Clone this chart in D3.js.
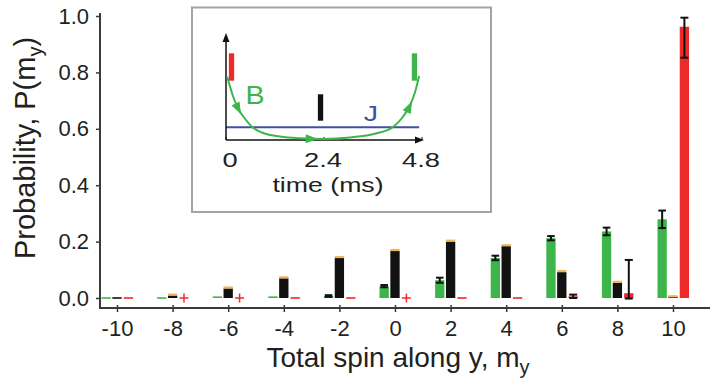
<!DOCTYPE html>
<html>
<head>
<meta charset="utf-8">
<script src="https://cdn.jsdelivr.net/npm/d3@7"></script>
<style>
  body { margin: 0; background: #fff; }
  text { font-family: "Liberation Sans", Arial, Helvetica, sans-serif; fill: #231f20; }
</style>
</head>
<body>
<div id="chart"></div>
<script>
// categories: total spin along y
var spins = [-10, -8, -6, -4, -2, 0, 2, 4, 6, 8, 10];
var yTicks = [0, 0.2, 0.4, 0.6, 0.8, 1.0];

// green bars (left of each group)
var greenVals = [0, 0, 0.001, 0.004, 0.007, 0.042, 0.063, 0.142, 0.212, 0.236, 0.279];
var greenErr = [0, 0, 0, 0, 0.003, 0.004, 0.009, 0.008, 0.0075, 0.0135, 0.031];
// black bars (middle)
var blackVals = [0, 0.009, 0.034, 0.070, 0.142, 0.167, 0.200, 0.184, 0.092, 0.054, 0.003];
// red bars (right)
var redVals = [0, 0, 0, 0, 0, 0, 0, 0, 0.006, 0.017, 0.962];
var redErrLo = [null, null, null, null, null, null, null, null, 0, -0.002, 0.852];
var redErrHi = [null, null, null, null, null, null, null, null, 0.012, 0.135, 0.994];
var redPlus = [false, true, true, false, false, true, false, false, false, false, false];

// inset: field B(t) and coupling J over the 4.8 ms sequence
var insetTicks = [0, 2.4, 4.8];
var fieldT = [0.03, 0.17, 0.29, 0.47, 0.64, 0.88, 1.32, 1.81, 2.4, 3.04, 3.67, 4.09, 4.33, 4.51, 4.63, 4.73];
var fieldB = [0.633, 0.44, 0.32, 0.21, 0.13, 0.075, 0.035, 0.017, 0.01, 0.025, 0.065, 0.13, 0.23, 0.35, 0.48, 0.64];
var arrowT = [0.30, 2.1, 4.49];
var couplingJ = 0.127;
var pulseStart = [0.07, 2.25, 4.55];
var pulseEnd = [0.20, 2.38, 4.68];
var pulseLo = [0.593, 0.193, 0.593];
var pulseHi = [0.867, 0.457, 0.867];

var GREEN = "#3db54a", BLACK = "#111111", RED = "#ee2a2a", ORANGE = "#f3b45e", BLUE = "#3f51a3";
var pulseColors = [RED, BLACK, GREEN];

var width = 710, height = 385;
var svg = d3.select("#chart").append("svg")
  .attr("width", width)
  .attr("height", height);

var x = d3.scaleLinear().domain([-10, 10]).range([117, 673]);
var y = d3.scaleLinear().domain([0, 1]).range([298, 16]);
var unit = x(1) - x(0);
var barW = 0.335 * unit;

// bars
var series = [
  { vals: greenVals, off: -0.39, color: GREEN, plus: null },
  { vals: blackVals, off: 0, color: BLACK, plus: null },
  { vals: redVals, off: 0.41, color: RED, plus: redPlus }
];

series.forEach(function(s) {
  var rows = spins.map(function(m, i) { return { m: m, v: s.vals[i], i: i }; })
    .filter(function(d) { return !(s.plus && s.plus[d.i]); });
  svg.append("g")
    .selectAll("rect")
    .data(rows)
    .join("rect")
    .attr("x", function(d) { return x(d.m + s.off) - barW / 2; })
    .attr("y", function(d) { return d.v > 0 ? Math.min(y(d.v), y(0) - 1.6) : y(0) - 0.8; })
    .attr("width", barW)
    .attr("height", function(d) { return d.v > 0 ? Math.max(y(0) - y(d.v), 1.6) : 1.6; })
    .attr("fill", s.color);
});

// orange caps on the black bars
svg.append("g")
  .selectAll("rect")
  .data(spins.map(function(m, i) { return { m: m, v: blackVals[i] }; }).filter(function(d) { return d.v > 0; }))
  .join("rect")
  .attr("x", function(d) { return x(d.m) - barW / 2; })
  .attr("y", function(d) { return y(d.v) - 2; })
  .attr("width", barW)
  .attr("height", 2.2)
  .attr("fill", ORANGE);

// red "+" markers
var plusG = svg.append("g").attr("stroke", RED).attr("stroke-width", 1.5);
spins.forEach(function(m, i) {
  if (!redPlus[i]) return;
  var cx = x(m + 0.41), cy = y(0);
  plusG.append("line").attr("x1", cx - 4.5).attr("x2", cx + 4.5).attr("y1", cy).attr("y2", cy);
  plusG.append("line").attr("x1", cx).attr("x2", cx).attr("y1", cy - 4.5).attr("y2", cy + 4.5);
});

// error bars
function errorBar(g, cx, lo, hi, capW) {
  g.append("line").attr("x1", cx).attr("x2", cx).attr("y1", y(lo)).attr("y2", y(hi));
  g.append("line").attr("x1", cx - capW).attr("x2", cx + capW).attr("y1", y(lo)).attr("y2", y(lo));
  g.append("line").attr("x1", cx - capW).attr("x2", cx + capW).attr("y1", y(hi)).attr("y2", y(hi));
}
var errG = svg.append("g").attr("stroke", "#111").attr("stroke-width", 2);
spins.forEach(function(m, i) {
  if (greenErr[i] > 0) errorBar(errG, x(m - 0.39), greenVals[i] - greenErr[i], greenVals[i] + greenErr[i], 3.8);
  if (redErrHi[i] != null) errorBar(errG, x(m + 0.41), redErrLo[i], redErrHi[i], 4);
});

// axes
var axisColor = "#3a3a3a";
var yAxis = svg.append("g")
  .attr("transform", "translate(100,0)")
  .call(d3.axisLeft(y).tickValues(yTicks).tickFormat(d3.format(".1f")).tickSizeInner(4).tickSizeOuter(0).tickPadding(7));
yAxis.select(".domain").remove();
yAxis.selectAll("line").attr("stroke", axisColor).attr("stroke-width", 1.5);
yAxis.selectAll("text").attr("font-size", 22).attr("fill", "#231f20");
svg.append("line").attr("x1", 100).attr("x2", 100).attr("y1", 13).attr("y2", 309)
  .attr("stroke", axisColor).attr("stroke-width", 2);

var xAxis = svg.append("g")
  .attr("transform", "translate(0,308)")
  .call(d3.axisBottom(x).tickValues(spins).tickFormat(function(d) { return String(d); }).tickSizeInner(4).tickSizeOuter(0).tickPadding(8));
xAxis.select(".domain").remove();
xAxis.selectAll("line").attr("y1", -3).attr("stroke", axisColor).attr("stroke-width", 1.5);
xAxis.selectAll("text").attr("font-size", 22).attr("fill", "#231f20");
svg.append("line").attr("x1", 99).attr("x2", 710).attr("y1", 308).attr("y2", 308)
  .attr("stroke", axisColor).attr("stroke-width", 2.2);

// axis titles
var yTitle = svg.append("text")
  .attr("transform", "translate(35,148) rotate(-90)")
  .attr("text-anchor", "middle")
  .attr("font-size", 29);
yTitle.append("tspan").text("Probability, P(m");
yTitle.append("tspan").attr("font-size", 20).attr("dy", 7).text("y");
yTitle.append("tspan").attr("dy", -7).text(")");

var xTitle = svg.append("text")
  .attr("x", 398)
  .attr("y", 367)
  .attr("text-anchor", "middle")
  .attr("font-size", 28);
xTitle.append("tspan").text("Total spin along y, m");
xTitle.append("tspan").attr("font-size", 20).attr("dy", 7).text("y");

// ---- inset ----
var inset = svg.append("g");
inset.append("rect")
  .attr("x", 192).attr("y", 7.5).attr("width", 299).attr("height", 204.5)
  .attr("fill", "#fff").attr("stroke", "#a3a3a3").attr("stroke-width", 2);

var ix = d3.scaleLinear().domain([0, 4.8]).range([226, 422]);
var iy = d3.scaleLinear().domain([0, 1]).range([140, 40]);

// coupling J
inset.append("line")
  .attr("x1", ix(0)).attr("x2", ix(4.73)).attr("y1", iy(couplingJ)).attr("y2", iy(couplingJ))
  .attr("stroke", BLUE).attr("stroke-width", 2);

// axes with arrowheads
inset.append("line").attr("x1", ix(0)).attr("x2", ix(0)).attr("y1", iy(0)).attr("y2", iy(1) - 2)
  .attr("stroke", "#111").attr("stroke-width", 1.5);
inset.append("line").attr("x1", ix(0)).attr("x2", ix(4.8) - 4).attr("y1", iy(0)).attr("y2", iy(0))
  .attr("stroke", "#111").attr("stroke-width", 1.5);
inset.append("path")
  .attr("d", "M" + ix(0) + "," + (iy(1) - 7) + "l-3.5,9l7,0z")
  .attr("fill", "#111");
inset.append("path")
  .attr("d", "M" + (ix(4.8) + 2) + "," + iy(0) + "l-9,-3.5l0,7z")
  .attr("fill", "#111");
inset.selectAll(".itick")
  .data(insetTicks)
  .join("line")
  .attr("x1", function(d) { return ix(d); }).attr("x2", function(d) { return ix(d); })
  .attr("y1", iy(0) - 3).attr("y2", iy(0))
  .attr("stroke", "#111").attr("stroke-width", 1);

inset.selectAll(".ilabel")
  .data(insetTicks)
  .join("text")
  .attr("transform", function(d) { return "translate(" + (ix(d) + (d === 0 ? 4 : -1)) + ",167) scale(1.3,1)"; })
  .attr("text-anchor", "middle")
  .attr("font-size", 21)
  .text(function(d) { return d === 0 ? "0" : d.toFixed(1); });

inset.append("text")
  .attr("transform", "translate(328,192) scale(1.27,1)")
  .attr("text-anchor", "middle")
  .attr("font-size", 21)
  .text("time (ms)");

// pulses
inset.selectAll(".pulse")
  .data(pulseStart)
  .join("rect")
  .attr("x", function(d) { return ix(d); })
  .attr("y", function(d, i) { return iy(pulseHi[i]); })
  .attr("width", function(d, i) { return ix(pulseEnd[i]) - ix(d); })
  .attr("height", function(d, i) { return iy(pulseLo[i]) - iy(pulseHi[i]); })
  .attr("fill", function(d, i) { return pulseColors[i]; });

// field curve
var fieldPts = fieldT.map(function(t, i) { return [t, fieldB[i]]; });
var curve = inset.append("path")
  .datum(fieldPts)
  .attr("fill", "none")
  .attr("stroke", GREEN)
  .attr("stroke-width", 2)
  .attr("d", d3.line()
    .x(function(d) { return ix(d[0]); })
    .y(function(d) { return iy(d[1]); })
    .curve(d3.curveMonotoneX));

// arrowheads along the curve
var node = curve.node();
var total = node.getTotalLength();
function lengthAtX(px) {
  var lo = 0, hi = total;
  for (var k = 0; k < 40; k++) {
    var mid = (lo + hi) / 2;
    if (node.getPointAtLength(mid).x < px) lo = mid; else hi = mid;
  }
  return (lo + hi) / 2;
}
arrowT.forEach(function(t) {
  var L = lengthAtX(ix(t));
  var p = node.getPointAtLength(L);
  var a = node.getPointAtLength(Math.max(0, L - 1));
  var b = node.getPointAtLength(Math.min(total, L + 1));
  var ang = Math.atan2(b.y - a.y, b.x - a.x) * 180 / Math.PI;
  inset.append("path")
    .attr("d", "M6,0L-6,-4.5L-6,4.5Z")
    .attr("transform", "translate(" + p.x + "," + p.y + ") rotate(" + ang + ")")
    .attr("fill", GREEN);
});

// labels
inset.append("text")
  .attr("transform", "translate(255,104) scale(1.1,1)")
  .attr("text-anchor", "middle")
  .attr("font-size", 26)
  .style("fill", GREEN)
  .text("B");
inset.append("text")
  .attr("transform", "translate(371,121) scale(1.3,1)")
  .attr("text-anchor", "middle")
  .attr("font-size", 22)
  .style("fill", BLUE)
  .text("J");
</script>
</body>
</html>
